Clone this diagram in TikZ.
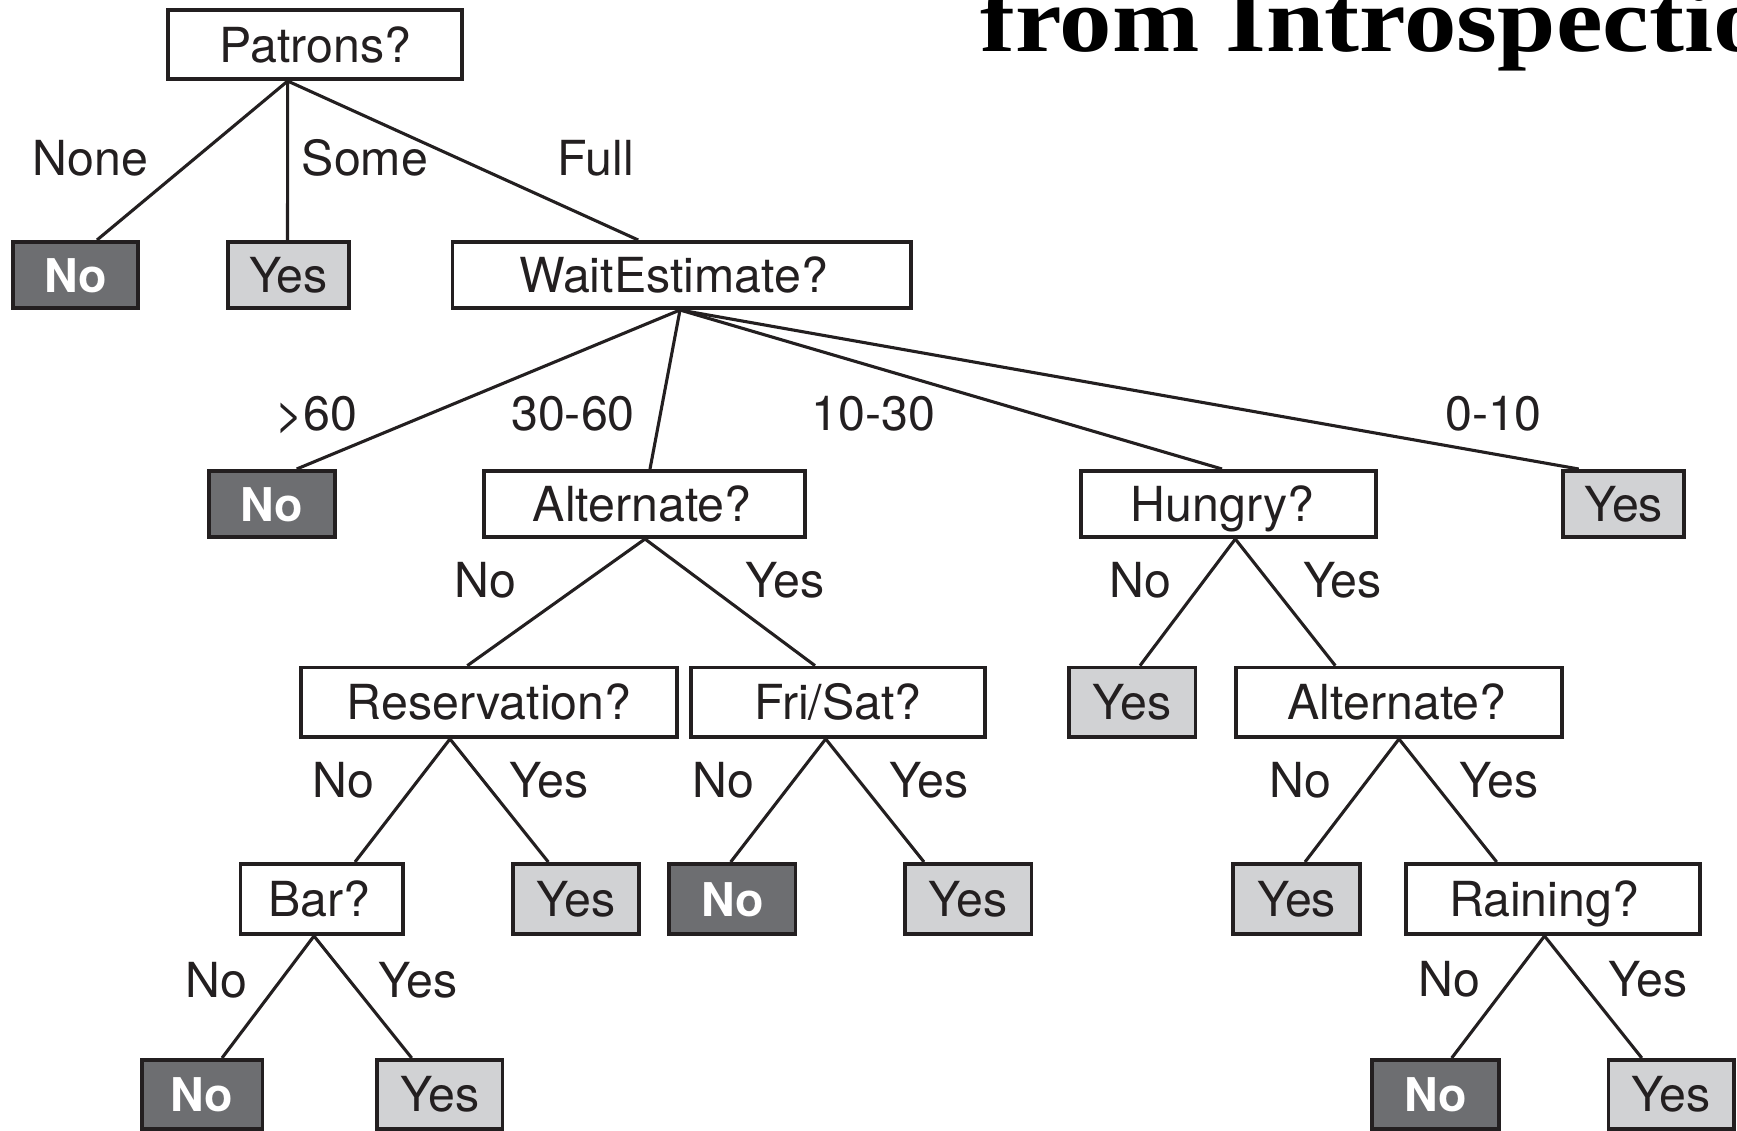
\documentclass[tikz,border=0pt]{standalone}
\usepackage{fontspec}
\setsansfont{TeX Gyre Heros}
\newfontfamily\ttlfamily{Liberation Serif}
\definecolor{ink}{HTML}{231F20}
\definecolor{darkg}{HTML}{6D6E71}
\definecolor{lightg}{HTML}{D1D2D4}
\newcommand\nodefnt{\sffamily\fontsize{48.3}{50}\selectfont}
\newcommand\nodefntb{\sffamily\bfseries\fontsize{46.5}{50}\selectfont}
\newcommand\ttlfnt{\ttlfamily\bfseries\fontsize{92}{92}\selectfont}
\tikzset{
  base/.style={draw=ink, line width=3.8pt, inner sep=0pt, text height=34.6pt, text depth=0pt, font=\nodefnt, text=ink},
  qbox/.style={base, fill=white},
  yesbox/.style={base, fill=lightg},
  nobox/.style={base, fill=darkg, text=white, font=\nodefntb},
  lab/.style={inner sep=0pt, text height=34.6pt, text depth=0pt, font=\nodefnt, text=ink},
  edge/.style={draw=ink, line width=3.1pt},
  sz/.style 2 args={minimum width=#1pt, minimum height=#2pt}
}
\begin{document}
\begin{tikzpicture}[x=1pt, y=-1pt]
\useasboundingbox (0,0) rectangle (1737,1130);
\clip (0,0) rectangle (1737,1130);
% title (cut off)
\node[anchor=base west, inner sep=0pt, font=\ttlfnt, text=black] (title) at (980,51.7) {\scalebox{1.14}[1]{from Introspection}};
% row 0
\node[qbox, sz={293.7}{68.9}] (pat) at (315.2,44.7) {Patrons?};
% row 1
\node[nobox, sz={125.2}{66.2}] (no1) at (75.5,275) {No};
\node[yesbox, sz={120.5}{66.2}] (yes1) at (288.5,275) {Yes};
\node[qbox, sz={458.3}{66.2}] (we) at (681.6,275) {WaitEstimate?\hspace*{16pt}};
% row 2
\node[nobox, sz={126.2}{66.2}] (no2) at (271.7,504) {No};
\node[qbox, sz={321.2}{66.2}] (alt) at (644.2,504) {Alternate?\hspace*{4pt}};
\node[qbox, sz={294.9}{66.2}] (hun) at (1228.7,504) {Hungry?\hspace*{12pt}};
\node[yesbox, sz={121.2}{66.2}] (yes2) at (1623.5,504) {Yes};
% row 3
\node[qbox, sz={376.2}{69.5}] (res) at (489,702.3) {Reservation?};
\node[qbox, sz={294.5}{69.5}] (fri) at (838,702.3) {Fri/Sat?};
\node[yesbox, sz={126.2}{69.5}] (yes3) at (1132.4,702.3) {Yes};
\node[qbox, sz={326.2}{69.5}] (alt2) at (1399,702.3) {Alternate?\hspace*{4pt}};
% row 4
\node[qbox, sz={162.7}{70.2}] (bar) at (321.8,899) {Bar?\hspace*{5pt}};
\node[yesbox, sz={126.2}{70.2}] (yes4) at (575.7,899) {Yes};
\node[nobox, sz={126.2}{70.2}] (no5) at (732.3,899) {No};
\node[yesbox, sz={126.2}{70.2}] (yes5) at (968.3,899) {Yes};
\node[yesbox, sz={126.9}{70.2}] (yes6) at (1296.6,899) {Yes};
\node[qbox, sz={294.2}{70.2}] (rain) at (1553,899) {Raining?\hspace*{18pt}};
% row 5
\node[nobox, sz={120.8}{69.2}] (no7) at (202,1094.5) {No};
\node[yesbox, sz={125.7}{69.2}] (yes7) at (439.7,1094.5) {Yes};
\node[nobox, sz={126.9}{69.2}] (no8) at (1435.3,1094.5) {No};
\node[yesbox, sz={125.7}{69.2}] (yes8) at (1671.3,1094.5) {Yes};
% edges
\draw[edge] ([xshift=-27.5pt]pat.south) -- ([xshift=21.5pt]no1.north);
\draw[edge] ([xshift=-27.5pt]pat.south) -- ([xshift=-1pt]yes1.north);
\draw[edge] ([xshift=-27.5pt]pat.south) -- ([xshift=-43.4pt]we.north);
\draw[edge] ([xshift=-1.6pt]we.south) -- ([xshift=25pt]no2.north);
\draw[edge] ([xshift=-1.6pt]we.south) -- ([xshift=5.8pt]alt.north);
\draw[edge] ([xshift=-1.6pt]we.south) -- ([xshift=-6.7pt]hun.north);
\draw[edge] ([xshift=-1.6pt]we.south) -- ([xshift=-44.8pt]yes2.north);
\draw[edge] ([xshift=0.8pt]alt.south) -- ([xshift=-21.7pt]res.north);
\draw[edge] ([xshift=0.8pt]alt.south) -- ([xshift=-23pt]fri.north);
\draw[edge] ([xshift=6.6pt]hun.south) -- ([xshift=7.6pt]yes3.north);
\draw[edge] ([xshift=6.6pt]hun.south) -- ([xshift=-63.7pt]alt2.north);
\draw[edge] ([xshift=-39pt]res.south) -- ([xshift=33.2pt]bar.north);
\draw[edge] ([xshift=-39pt]res.south) -- ([xshift=-27.4pt]yes4.north);
\draw[edge] ([xshift=-12.3pt]fri.south) -- ([xshift=-1.6pt]no5.north);
\draw[edge] ([xshift=-12.3pt]fri.south) -- ([xshift=-44.3pt]yes5.north);
\draw[edge] (alt2.south) -- ([xshift=8.4pt]yes6.north);
\draw[edge] (alt2.south) -- ([xshift=-56.3pt]rain.north);
\draw[edge] ([xshift=-7.8pt]bar.south) -- ([xshift=20pt]no7.north);
\draw[edge] ([xshift=-7.8pt]bar.south) -- ([xshift=-28pt]yes7.north);
\draw[edge] ([xshift=-8.5pt]rain.south) -- ([xshift=16.4pt]no8.north);
\draw[edge] ([xshift=-8.5pt]rain.south) -- ([xshift=-29.5pt]yes8.north);
% edge labels
\node[lab] (l1) at (90.7,158.3) {None};
\node[lab] (l2) at (365,158.3) {Some};
\node[lab] (l3) at (596,158.3) {Full};
\node[lab] (l4) at (316,413) {>60};
\node[lab] (l5) at (573,413) {30-60};
\node[lab] (l6) at (873.5,413) {10-30};
\node[lab] (l7) at (1493.5,413) {0-10};
\node[lab] (l8) at (485,580) {No};
\node[lab] (l9) at (785,580) {Yes};
\node[lab] (l10) at (1140,580) {No};
\node[lab] (l11) at (1342.5,580) {Yes};
\node[lab] (l12) at (343,780.5) {No};
\node[lab] (l13) at (549,780.5) {Yes};
\node[lab] (l14) at (723.3,780.5) {No};
\node[lab] (l15) at (928.8,780.5) {Yes};
\node[lab] (l16) at (1300.3,780.5) {No};
\node[lab] (l17) at (1498.8,780.5) {Yes};
\node[lab] (l18) at (216,980) {No};
\node[lab] (l19) at (418,980) {Yes};
\node[lab] (l20) at (1449.5,979) {No};
\node[lab] (l21) at (1648,979) {Yes};
\end{tikzpicture}
\end{document}
